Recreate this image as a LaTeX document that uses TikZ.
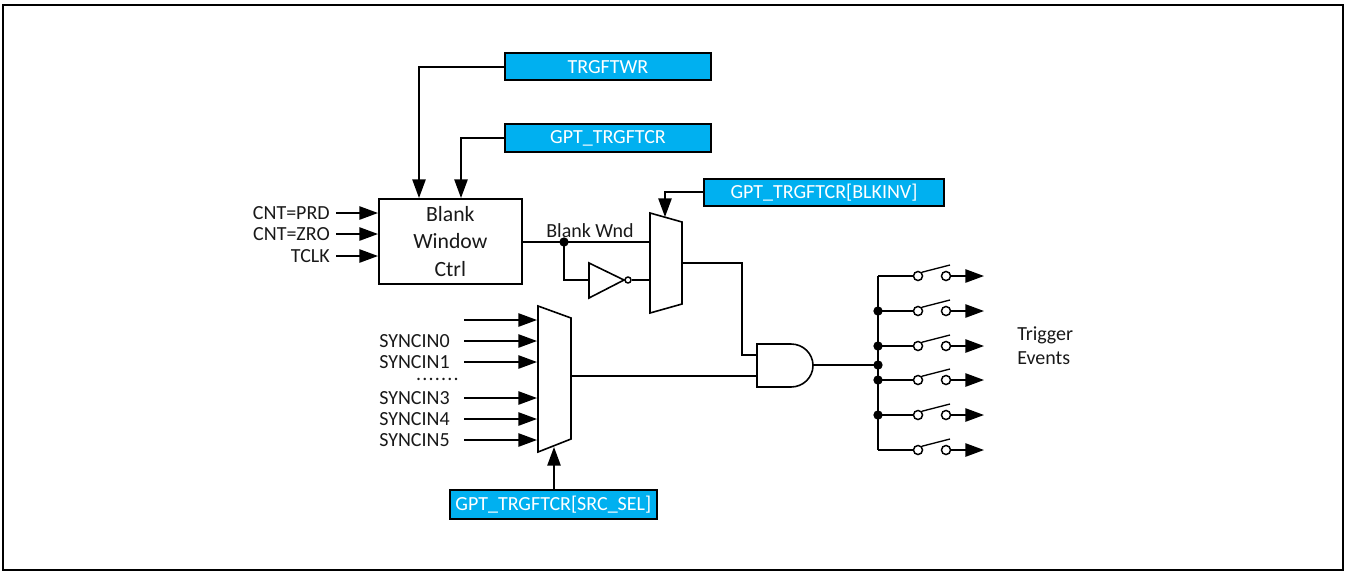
\documentclass[tikz,border=0pt]{standalone}
\usepackage{fontspec}
\setmainfont{Carlito}
\usetikzlibrary{arrows.meta}
\definecolor{regblue}{HTML}{00B0F0}
\tikzset{
  wire/.style={line width=1.2pt,line join=miter},
  arr/.style={wire,-{Triangle[length=14pt,width=10pt]}},
  regbox/.style={draw,line width=1.5pt,fill=regblue,text=white,font=\fontsize{15}{18}\selectfont,inner sep=0pt,anchor=north west},
  lbl/.style={font=\fontsize{15}{18}\selectfont,inner xsep=0pt,inner ysep=0pt,text=black!90},
  inlbl/.style={lbl,anchor=east,inner xsep=4.5pt},
  ctrlbox/.style={draw,line width=1.2pt,fill=white,anchor=north west,inner sep=0pt},
  dot/.style={circle,fill=black,inner sep=0pt,minimum size=7pt},
  ring/.style={circle,draw,line width=1.1pt,fill=white,inner sep=0pt,minimum size=6.8pt},
  gate/.style={line width=1.2pt,line join=miter,fill=white},
}
\begin{document}
\begin{tikzpicture}[x=0.75pt,y=-0.75pt]
\useasboundingbox (0,0) rectangle (1351,572);
\draw[line width=1.1pt] (3,5) rectangle (1343,570);
% register boxes
\node[regbox,minimum width=154.5pt,minimum height=20.5pt] (twr) at (504,52) {TRGFTWR};
\node[regbox,minimum width=154.5pt,minimum height=21pt] (tcr) at (504,123) {GPT\_TRGFTCR};
\node[regbox,minimum width=180pt,minimum height=20.5pt] (inv) at (703,178) {GPT\_TRGFTCR[BLKINV]};
\node[regbox,minimum width=155pt,minimum height=21.5pt] (src) at (449,489) {GPT\_TRGFTCR[SRC\_SEL]};
% control block
\node[ctrlbox,minimum width=107.25pt,minimum height=63.75pt,align=center,font=\fontsize{16.3}{20.5}\selectfont,text=black!90] (blank) at (378,198) {Blank\\Window\\Ctrl};
% muxes
\coordinate (mAtl) at (650,213); \coordinate (mAtr) at (682,222);
\coordinate (mAbr) at (682,304); \coordinate (mAbl) at (650,313);
\draw[gate] (mAtl) -- (mAtr) -- (mAbr) -- (mAbl) -- cycle;
\coordinate (mBtl) at (538,306); \coordinate (mBtr) at (571,318);
\coordinate (mBbr) at (571,439); \coordinate (mBbl) at (538,452);
\draw[gate] (mBtl) -- (mBtr) -- (mBbr) -- (mBbl) -- cycle;
% inverter
\coordinate (iT) at (589,263); \coordinate (iB) at (589,298); \coordinate (iX) at (624,280);
\draw[gate] (iT) -- (iX) -- (iB) -- cycle;
\node[ring,minimum size=4.5pt] (bub) at (628,280) {};
% AND gate
\coordinate (aT) at (757,344); \coordinate (aB) at (757,387);
\draw[gate] (aT) -- (791,344) arc[start angle=-90,end angle=90,x radius=22,y radius=21.5] -- (aB) -- cycle;
\coordinate (aOut) at (813,365);
% top control arrows
\coordinate (jTwr) at (419,67); \coordinate (jTcr) at (461,138); \coordinate (jInv) at (665,192);
\draw[arr] (twr.west |- jTwr) -- (jTwr) -- (jTwr |- blank.north);
\draw[arr] (tcr.west |- jTcr) -- (jTcr) -- (jTcr |- blank.north);
\draw[arr] (inv.west |- jInv) -- (jInv) -- (665,217);
% counter inputs
\node[inlbl] (prd) at (336,213) {CNT=PRD};
\node[inlbl] (zro) at (336,234) {CNT=ZRO};
\node[inlbl] (tclk) at (336,256) {TCLK};
\foreach \n in {prd,zro,tclk} \draw[arr] (\n.east) -- (\n.east -| blank.west);
% blank window
\coordinate (bw) at (564,242);
\coordinate (bwIn) at (650,242);
\coordinate (iIn) at (589,280);
\coordinate (iOutM) at (650,280);
\draw[wire] (blank.east |- bw) -- (bw) -- (bwIn);
\draw[wire] (bw) -- (bw |- iIn) -- (iIn);
\draw[wire] (bub.east) -- (iOutM);
\node[dot] (bwdot) at (bw) {};
\node[lbl,anchor=south] (bwl) at (590,238) {Blank Wnd};
% mux A to AND
\coordinate (mAo) at (682,263); \coordinate (aI1) at (757,355); \coordinate (aI2) at (757,376);
\draw[wire] (mAo) -- (742,263) -- (742,355) -- (aI1);
\coordinate (mBo) at (571,376);
\draw[wire] (mBo) -- (aI2);
% sync inputs
\coordinate (syncfree) at (464,320);
\draw[arr] (syncfree) -- (537,320);
\foreach \nm/\yy/\txt in {s0/341/SYNCIN0,s1/362/SYNCIN1,s3/398/SYNCIN3,s4/419/SYNCIN4,s5/440/SYNCIN5}{
  \node[lbl,anchor=west] (\nm) at (379,\yy) {\txt};
  \coordinate (\nm i) at (464,\yy);
  \draw[arr] (\nm i) -- (537,\yy);
}
\node[lbl,anchor=center,text height=2pt,text depth=0pt] (sdots) at (437.5,379) {\addfontfeature{LetterSpace=6}.......};
% select
\coordinate (sel) at (554,447);
\draw[arr] (src.north -| sel) -- (sel);
% output bus
\coordinate (busT) at (878,276); \coordinate (busB) at (878,450); \coordinate (busJ) at (878,365);
\draw[wire] (aOut) -- (busJ);
\draw[wire] (busT) -- (busB);
\node[dot] (dj) at (busJ) {};
\foreach \k/\yy in {1/276,2/311,3/346,4/380,5/415,6/450}{
  \coordinate (b\k) at (878,\yy);
  \node[ring] (sl\k) at (918,\yy) {};
  \node[ring] (sr\k) at (946,\yy) {};
  \coordinate (o\k) at (984,\yy);
  \coordinate (lv\k) at (950,\yy-11);
  \draw[wire] (b\k) -- (sl\k.west);
  \draw[wire,line width=1pt] (sl\k.north east) -- (lv\k);
  \draw[arr] (sr\k.east) -- (o\k);
}
\foreach \k in {2,3,4,5} \node[dot] (bd\k) at (b\k) {};
\node[lbl,anchor=west] (trg) at (1017,335) {Trigger};
\node[lbl,anchor=west] (evt) at (1017,358) {Events};
\end{tikzpicture}
\end{document}
